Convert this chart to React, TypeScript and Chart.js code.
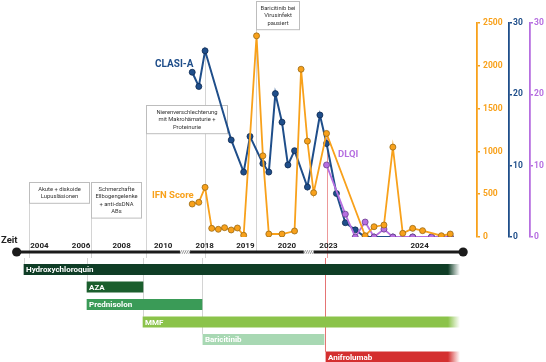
import { useEffect, useRef } from "react";
import { Chart, registerables } from "chart.js";

Chart.register(...registerables);
Chart.defaults.font.family = "Roboto, 'Noto Sans', sans-serif";

// Condensed timeline axis: 1 unit = 1 month inside the 2018–2020 section.
const yearLabels = ["2004", "2006", "2008", "2010", "2018", "2019", "2020", "2023", "2024"];
const yearPos = [10.13, 22.28, 34.14, 46.29, 58.44, 70.3, 82.45, 94.6, 121.22];
const timelineFrom = 3.47;
const timelineTo = 133.95;
const axisBreaks = [52.65, 88.82];

// Visit positions on the condensed axis
const visitPos = [
  54.77, 56.7, 58.53, 60.47, 62.4, 64.23, 66.17, 67.99, 69.81, 71.66, 73.57, 75.42, 77.16, 79.07,
  81.01, 82.74, 84.68, 86.59, 88.44, 90.26, 92.09, 94.03, 96.92, 99.52, 102.42, 105.31, 107.91,
  110.81, 113.41, 116.3, 119.2, 122.09, 124.69, 127.59, 130.19,
];

const ifnScore: (number | null)[] = [
  385, 405, 580, 101, 90, 109, 82, 105, 20, null, 2350, 948, 35, null, 35, null, 70, 1960, 1120,
  517, null, 1210, null, null, null, 15, 120, 140, 1050, 43, 101, 74, null, 15, 35,
];
const clasiA: (number | null)[] = [
  23.1, 21.1, 26.1, null, null, null, 13.6, null, 9.1, 14.1, null, 10.3, 9.1, 20.1, 16.1, 10.1,
  12.1, null, 7.0, null, 17.1, 13.1, 6.1, 2.0, 1.0, 0, 0, null, 0, null, 0, null, 0, null, 0,
];
const dlqi: (number | null)[] = [
  null, null, null, null, null, null, null, null, null, null, null, null, null, null, null, null,
  null, null, null, null, null, 10.1, null, 3.2, 0, 2.1, 0, 1.1, 0, null, 0, null, 0, null, 0,
];

// Treatments: start / end on the condensed axis; ongoing ones fade out
const therapies = ["Hydroxychloroquin", "AZA", "Prednisolon", "MMF", "Baricitinib", "Anifrolumab"];
const therapyStart = [6.94, 25.17, 25.17, 41.37, 58.7, 94.3];
const therapyEnd = [133.08, 41.37, 58.44, 133.08, 93.75, 133.08];
const therapyOngoing = [true, false, false, true, false, true];
const therapyColors = ["#0f3d26", "#1b5e2d", "#3a9b57", "#8bc34a", "#a8d8b3", "#d42f2f"];

// Clinical events with their note boxes
const eventPos = [6.94, 25.17, 41.37, 58.44, 73.49, 94.03];
const eventNotes: string[][] = [
  ["Akute + diskoide", "Lupusläsionen"],
  ["Schmerzhafte", "Ellbogengelenke", "+ anti-dsDNA", "ABs"],
  ["Nierenverschlechterung", "mit Makrohämaturie +", "Proteinurie"],
  [],
  ["Baricitinib bei", "Virusinfekt", "pausiert"],
  [],
];
const eventTherapy = [0, 1, 3, 4, -1, 5];

const ORANGE = "#F8A11B";
const BLUE = "#1F4E8A";
const PURPLE = "#B66FE0";

const X_MAX = 138;

const toPoints = (vals: (number | null)[]) =>
  visitPos.map((x, i) => ({ x, y: vals[i] })).filter((p) => p.y !== null);

export default function App() {
  const topRef = useRef<HTMLCanvasElement>(null);
  const barRef = useRef<HTMLCanvasElement>(null);

  useEffect(() => {
    if (!topRef.current || !barRef.current) return;

    // note box geometry (top edge, width) per event
    const noteTop = [182, 182, 105, 48, 1, 133];
    const noteWidth = [60, 50, 81, 0, 43, 0];

    const timelinePlugin = {
      id: "timeline",
      beforeDatasetsDraw(chart: any) {
        const { ctx } = chart;
        const xs = chart.scales.x;
        ctx.save();
        // guide lines from each event down to the treatment rows
        eventPos.forEach((p, i) => {
          const x = Math.round(xs.getPixelForValue(p)) + 0.5;
          ctx.beginPath();
          ctx.strokeStyle = i === 5 ? "rgba(220,70,70,0.55)" : "#d4d4d4";
          ctx.lineWidth = 1;
          ctx.moveTo(x, noteTop[i]);
          ctx.lineTo(x, i === 4 ? 252 : chart.height);
          ctx.stroke();
        });
        // note boxes
        ctx.font = "5.8px Roboto";
        ctx.textAlign = "center";
        ctx.textBaseline = "middle";
        eventPos.forEach((p, i) => {
          const lines = eventNotes[i];
          if (!lines.length) return;
          const x = Math.round(xs.getPixelForValue(p)) + 0.5;
          const lh = 7.4;
          const h = lines.length * lh + 6;
          const top = noteTop[i] + 0.5;
          ctx.fillStyle = "#ffffff";
          ctx.fillRect(x, top, noteWidth[i], h);
          ctx.strokeStyle = "#bdbdbd";
          ctx.strokeRect(x, top, noteWidth[i], h);
          ctx.fillStyle = "#333333";
          lines.forEach((t, k) => {
            ctx.fillText(t, x + noteWidth[i] / 2, top + 3 + lh * (k + 0.5) + 0.3);
          });
        });
        ctx.restore();
      },
      afterDatasetsDraw(chart: any) {
        const { ctx } = chart;
        const xs = chart.scales.x;
        const y = 252;
        ctx.save();
        // time arrow
        const x0 = xs.getPixelForValue(timelineFrom);
        const x1 = xs.getPixelForValue(timelineTo);
        ctx.strokeStyle = "#1b1b1b";
        ctx.lineWidth = 3;
        ctx.beginPath();
        ctx.moveTo(x0, y);
        ctx.lineTo(x1, y);
        ctx.stroke();
        ctx.fillStyle = "#1b1b1b";
        [x0, x1].forEach((x) => {
          ctx.beginPath();
          ctx.arc(x, y, 4.6, 0, Math.PI * 2);
          ctx.fill();
        });
        // axis breaks
        axisBreaks.forEach((b) => {
          const bx = xs.getPixelForValue(b);
          ctx.fillStyle = "#ffffff";
          ctx.fillRect(bx - 5, y - 2, 10, 4);
          ctx.strokeStyle = "#777";
          ctx.lineWidth = 0.8;
          for (let k = 0; k < 5; k++) {
            const sx = bx - 5 + k * 2.2;
            ctx.beginPath();
            ctx.moveTo(sx, y + 1.8);
            ctx.lineTo(sx + 1.8, y - 1.8);
            ctx.stroke();
          }
        });
        // year labels
        ctx.fillStyle = "#222";
        ctx.font = "bold 8px Roboto";
        ctx.textAlign = "center";
        ctx.textBaseline = "middle";
        yearLabels.forEach((t, i) => {
          ctx.fillText(t, xs.getPixelForValue(yearPos[i]), 245.5);
        });
        ctx.textAlign = "left";
        ctx.font = "bold 9.5px Roboto";
        ctx.fillText("Zeit", 1, 240.5);
        // series names
        ctx.font = "bold 10px Roboto";
        ctx.fillStyle = BLUE;
        ctx.fillText("CLASI-A", 155, 64);
        ctx.font = "bold 9.5px Roboto";
        ctx.fillStyle = ORANGE;
        ctx.fillText("IFN Score", 152, 196);
        ctx.fillStyle = PURPLE;
        ctx.fillText("DLQI", 338, 155);
        ctx.restore();
      },
    };

    const axis = (color: string, min: number, max: number, step: number, width: number, weight: number, pad: number) => ({
      type: "linear",
      position: "right",
      weight,
      min,
      max,
      ticks: {
        stepSize: step,
        color,
        padding: pad,
        font: { weight: "bold", size: 8.5 },
        callback: (v: number) => String(v),
      },
      grid: { drawOnChartArea: false, color, tickLength: 3, lineWidth: 1.5 },
      border: { color, width: 1.8 },
      afterFit: (s: any) => {
        s.width = width;
      },
    });

    const top = new Chart(topRef.current, {
      type: "line",
      data: {
        datasets: [
          {
            label: "IFN Score",
            data: toPoints(ifnScore),
            yAxisID: "ifn",
            borderColor: ORANGE,
            backgroundColor: ORANGE,
            pointBorderColor: "#9a6a14",
            pointBorderWidth: 0.8,
            pointRadius: 3,
            borderWidth: 1.8,
            spanGaps: true,
            order: 1,
          },
          {
            label: "DLQI",
            data: toPoints(dlqi),
            yAxisID: "dlqi",
            borderColor: PURPLE,
            backgroundColor: PURPLE,
            pointBorderColor: "#6b3f8e",
            pointBorderWidth: 0.8,
            pointRadius: 3,
            borderWidth: 1.8,
            spanGaps: true,
            order: 2,
          },
          {
            label: "CLASI-A",
            data: toPoints(clasiA),
            yAxisID: "clasi",
            borderColor: BLUE,
            backgroundColor: BLUE,
            pointBorderColor: "#0e2a52",
            pointBorderWidth: 0.8,
            pointRadius: 3,
            borderWidth: 2,
            spanGaps: true,
            order: 3,
          },
        ],
      },
      options: {
        responsive: false,
        animation: false,
        layout: { padding: { top: 23, bottom: 21, left: 0, right: 0 } },
        plugins: { legend: { display: false }, tooltip: { enabled: false } },
        scales: {
          x: { type: "linear", min: 0, max: X_MAX, display: false },
          ifn: axis(ORANGE, 0, 2500, 500, 32, 0, 3),
          clasi: axis(BLUE, 0, 30, 10, 21, 1, 1),
          dlqi: axis(PURPLE, 0, 30, 10, 16, 2, 1),
        },
      } as any,
      plugins: [timelinePlugin],
    });

    const therapyPlugin = {
      id: "therapyLabels",
      beforeDatasetsDraw(chart: any) {
        const { ctx } = chart;
        const xs = chart.scales.x;
        const meta = chart.getDatasetMeta(0);
        ctx.save();
        eventPos.forEach((p, i) => {
          const row = eventTherapy[i];
          if (row < 0) return;
          const bar = meta.data[row];
          const x = Math.round(xs.getPixelForValue(p)) + 0.5;
          ctx.beginPath();
          ctx.strokeStyle = i === 5 ? "rgba(220,70,70,0.75)" : "#d4d4d4";
          ctx.lineWidth = 1;
          ctx.moveTo(x, 0);
          ctx.lineTo(x, bar.y - bar.height / 2);
          ctx.stroke();
        });
        ctx.restore();
      },
      afterDatasetsDraw(chart: any) {
        const { ctx } = chart;
        const meta = chart.getDatasetMeta(0);
        ctx.save();
        ctx.fillStyle = "#ffffff";
        ctx.font = "bold 8px Roboto";
        ctx.textAlign = "left";
        ctx.textBaseline = "middle";
        meta.data.forEach((el: any, i: number) => {
          ctx.fillText(therapies[i], Math.min(el.base, el.x) + 2, el.y + 0.5);
        });
        ctx.restore();
      },
    };

    const bars = new Chart(barRef.current, {
      type: "bar",
      data: {
        labels: therapies,
        datasets: [
          {
            data: therapies.map((_, i) => [therapyStart[i], therapyEnd[i]]),
            barThickness: 10.5,
            borderSkipped: false,
            backgroundColor: (c: any) => {
              const i = c.dataIndex;
              const col = therapyColors[i];
              const chart = c.chart;
              if (!therapyOngoing[i] || !chart.chartArea) return col;
              const xs = chart.scales.x;
              const e = xs.getPixelForValue(therapyEnd[i]);
              const g = chart.ctx.createLinearGradient(e - 12, 0, e, 0);
              g.addColorStop(0, col);
              g.addColorStop(1, "rgba(255,255,255,0.9)");
              return g;
            },
          },
        ],
      },
      options: {
        indexAxis: "y",
        responsive: false,
        animation: false,
        layout: { padding: { top: 2.75, bottom: 2.25, left: 0, right: 69 } },
        plugins: { legend: { display: false }, tooltip: { enabled: false } },
        scales: {
          x: { type: "linear", min: 0, max: X_MAX, display: false },
          y: { type: "category", display: false, offset: true },
        },
      } as any,
      plugins: [therapyPlugin],
    });

    return () => {
      top.destroy();
      bars.destroy();
    };
  }, []);

  return (
    <div
      style={{
        position: "fixed",
        left: 0,
        top: 0,
        width: 546,
        height: 362,
        overflow: "hidden",
        background: "#ffffff",
      }}
    >
      <canvas ref={topRef} width={546} height={258} style={{ position: "absolute", left: 0, top: 0 }} />
      <canvas ref={barRef} width={546} height={110} style={{ position: "absolute", left: 0, top: 258 }} />
    </div>
  );
}
